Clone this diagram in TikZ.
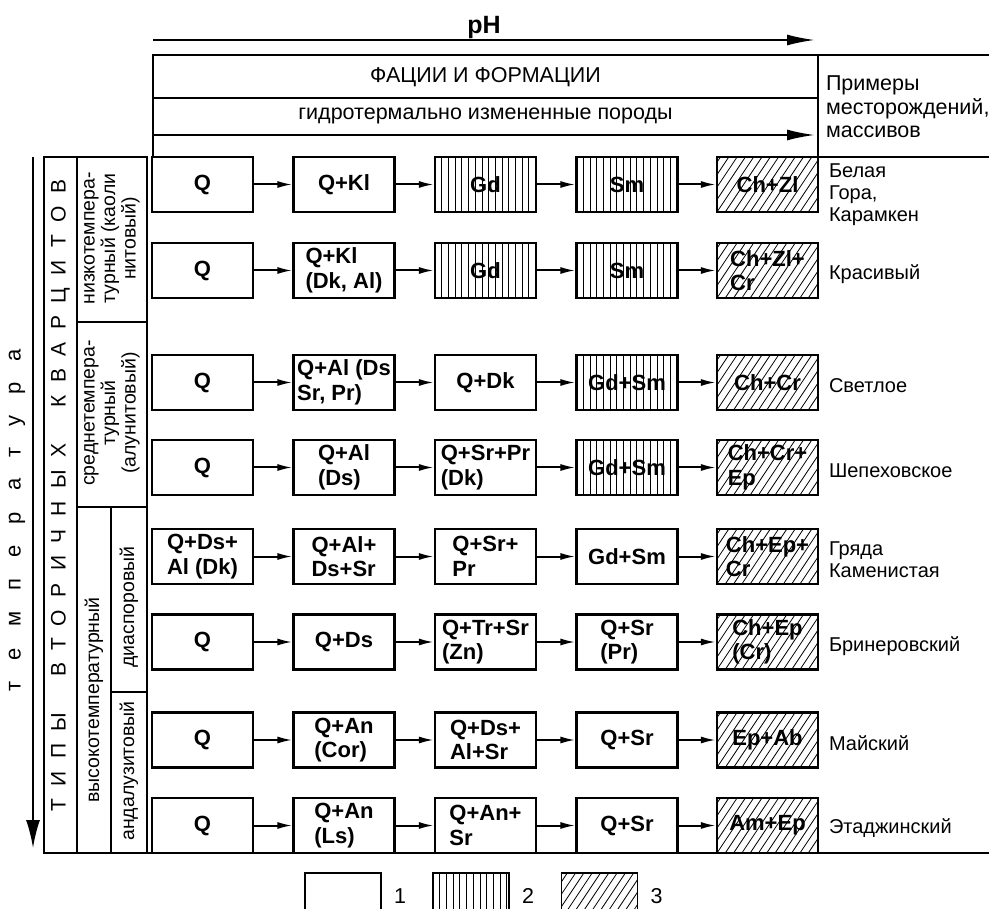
\documentclass[tikz,border=0pt]{standalone}
\usepackage{fontspec}
\setmainfont{Liberation Sans}
\newfontfamily\wideA[LetterSpace=60]{Liberation Sans}
\newfontfamily\wideB[LetterSpace=96]{Liberation Sans}
\usetikzlibrary{arrows.meta,positioning}
\begin{document}
\begin{tikzpicture}[x=1pt, y=-1pt, line width=2pt,
  >={Latex[length=15pt,width=7pt]},
  box/.style={draw, line width=2.2pt, minimum width=101pt, minimum height=55pt, inner sep=2pt, align=left, font=\bfseries\fontsize{22}{24.5}\selectfont},
  vbox/.style={box, path picture={\foreach \k in {1,...,14} \draw[line width=0.8pt] ([xshift=\k*6.7pt]path picture bounding box.south west) -- ([xshift=\k*6.7pt]path picture bounding box.north west);}},
  dbox/.style={box, path picture={\foreach \k in {-7,...,13} \draw[line width=0.8pt] ([xshift=\k*8.3pt]path picture bounding box.south west) -- ++(40pt,60pt);}},
  site/.style={anchor=west, align=left, inner sep=0pt, font=\fontsize{20}{22}\selectfont},
  head/.style={font=\fontsize{21.5}{23.5}\selectfont},
  side/.style={rotate=90, align=center, inner sep=0pt, font=\fontsize{19.5}{20.5}\selectfont},
  big/.style={-{Latex[length=28pt,width=11pt]}},
  legbox/.style={minimum width=76pt, minimum height=46pt, line width=1.5pt}
]
\useasboundingbox (0,0) rectangle (989,909);
% pH
\node[font=\bfseries\fontsize{25}{25}\selectfont] (ph) at (484,27) {pH};
\coordinate (ph0) at (153,40);
\coordinate (ph1) at (815,40);
\draw[big] (ph0) -- (ph1);
% header
\draw (153,157) -- (153,55) -- (989,55);
\draw (818,55) -- (818,157) -- (989,157);
\draw (153,98) -- (818,98);
\node[head] (fac) at (485.5,77) {ФАЦИИ И ФОРМАЦИИ};
\node[head] (hyd) at (485.5,116) {гидротермально измененные породы};
\coordinate (hy0) at (153,135);
\coordinate (hy1) at (815,135);
\draw[big] (hy0) -- (hy1);
\node[head, anchor=west, align=left, inner sep=0pt] (ex) at (825,107) {Примеры\\месторождений,\\массивов};
% left table
\draw (44,157) rectangle (147,853);
\draw (77,157) -- (77,853);
\draw (77,322) -- (147,322);
\draw (77,507) -- (147,507);
\draw (111,507) -- (111,853);
\draw (111,692) -- (147,692);
\draw (147,853) -- (989,853);
\node[rotate=90, font=\wideA\fontsize{21}{21}\selectfont] (types) at (60.5,496) {ТИПЫ\hspace{18pt} ВТОРИЧНЫХ\hspace{18pt} КВАРЦИТОВ};
\node[rotate=90, font=\wideB\fontsize{22}{22}\selectfont] (temp) at (17,520) {температура};
\coordinate (t0) at (33,157);
\coordinate (t1) at (33,848);
\draw[-{Latex[length=28pt,width=14pt]}] (t0) -- (t1);
\node[side] (low) at (112,238.5) {низкотемпера-\\турный (каоли\\нитовый)};
\node[side] (mid) at (112,413) {среднетемпера-\\турный\\(алунитовый)};
\node[side] (high) at (94,700) {высокотемпературный};
\node[side] (dsp) at (129,607) {диаспоровый};
\node[side] (andal) at (129,771) {андалузитовый};
% row 1
\node[box] (r1-1) at (202.5,184.5) {Q};
\node[box] (r1-2) at (344,184.5) {Q+Kl};
\node[vbox] (r1-3) at (485.5,184.5) {Gd};
\node[vbox] (r1-4) at (627,184.5) {Sm};
\node[dbox] (r1-5) at (767.5,184.5) {Ch+Zl};
\node[site, anchor=north west] (s1) at (828,163) {Белая\\Гора,\\Карамкен};
% row 2
\node[box] (r2-1) at (202.5,270.5) {Q};
\node[box] (r2-2) at (344,270.5) {Q+Kl\\(Dk, Al)};
\node[vbox] (r2-3) at (485.5,270.5) {Gd};
\node[vbox] (r2-4) at (627,270.5) {Sm};
\node[dbox] (r2-5) at (767.5,270.5) {Ch+Zl+\\Cr};
\node[site] (s2) at (828,274) {Красивый};
% row 3
\node[box] (r3-1) at (202.5,382.5) {Q};
\node[box] (r3-2) at (344,382.5) {Q+Al (Ds\\Sr, Pr)};
\node[box] (r3-3) at (485.5,382.5) {Q+Dk};
\node[vbox] (r3-4) at (627,382.5) {Gd+Sm};
\node[dbox] (r3-5) at (767.5,382.5) {Ch+Cr};
\node[site] (s3) at (828,386) {Светлое};
% row 4
\node[box] (r4-1) at (202.5,467.5) {Q};
\node[box] (r4-2) at (344,467.5) {Q+Al\\(Ds)};
\node[box] (r4-3) at (485.5,467.5) {Q+Sr+Pr\\(Dk)};
\node[vbox] (r4-4) at (627,467.5) {Gd+Sm};
\node[dbox] (r4-5) at (767.5,467.5) {Ch+Cr+\\Ep};
\node[site] (s4) at (828,471) {Шепеховское};
% row 5
\node[box] (r5-1) at (202.5,556.5) {Q+Ds+\\Al (Dk)};
\node[box] (r5-2) at (344,556.5) {Q+Al+\\Ds+Sr};
\node[box] (r5-3) at (485.5,556.5) {Q+Sr+\\Pr};
\node[box] (r5-4) at (627,556.5) {Gd+Sm};
\node[dbox] (r5-5) at (767.5,556.5) {Ch+Ep+\\Cr};
\node[site] (s5) at (828,560) {Гряда\\Каменистая};
% row 6
\node[box] (r6-1) at (202.5,642) {Q};
\node[box] (r6-2) at (344,642) {Q+Ds};
\node[box] (r6-3) at (485.5,642) {Q+Tr+Sr\\(Zn)};
\node[box] (r6-4) at (627,642) {Q+Sr\\(Pr)};
\node[dbox] (r6-5) at (767.5,642) {Ch+Ep\\(Cr)};
\node[site] (s6) at (828,646) {Бринеровский};
% row 7
\node[box] (r7-1) at (202.5,740) {Q};
\node[box] (r7-2) at (344,740) {Q+An\\(Cor)};
\node[box] (r7-3) at (485.5,740) {Q+Ds+\\Al+Sr};
\node[box] (r7-4) at (627,740) {Q+Sr};
\node[dbox] (r7-5) at (767.5,740) {Ep+Ab};
\node[site] (s7) at (828,743) {Майский};
% row 8
\node[box] (r8-1) at (202.5,825.5) {Q};
\node[box] (r8-2) at (344,825.5) {Q+An\\(Ls)};
\node[box] (r8-3) at (485.5,825.5) {Q+An+\\Sr};
\node[box] (r8-4) at (627,825.5) {Q+Sr};
\node[dbox] (r8-5) at (767.5,825.5) {Am+Ep};
\node[site] (s8) at (828,828) {Этаджинский};
% arrows
\foreach \r in {1,...,8}
  \foreach \c/\n in {1/2,2/3,3/4,4/5}
    \draw[->] (r\r-\c) -- (r\r-\n);
% legend
\node[box, legbox] (leg1) at (343,896) {};
\node[vbox, legbox] (leg2) at (471,896) {};
\node[dbox, legbox] (leg3) at (599.5,896) {};
\node[head, right=8pt of leg1] (n1) {1};
\node[head, right=8pt of leg2] (n2) {2};
\node[head, right=8pt of leg3] (n3) {3};
\end{tikzpicture}
\end{document}
